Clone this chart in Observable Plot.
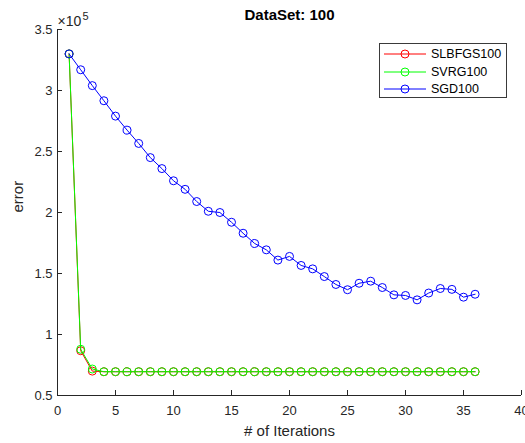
<!DOCTYPE html>
<html><head><meta charset="utf-8">
<script src="https://cdn.jsdelivr.net/npm/d3@7"></script>
<script src="https://cdn.jsdelivr.net/npm/@observablehq/plot@0.6"></script>
<style>
html,body{margin:0;padding:0;background:#fff;}
#wrap{position:relative;width:525px;height:443px;font-family:"Liberation Sans",Arial,sans-serif;}
#legend{position:absolute;left:379px;top:43px;width:128px;height:55px;border:1px solid #3a3a3a;background:#fff;box-sizing:border-box;font-size:12.5px;color:#000;}
#legend .row{position:absolute;left:0;height:16px;display:flex;align-items:center;}
#legend svg{display:block;}
#legend span{margin-left:4px;line-height:16px;}
</style></head><body><div id="wrap"></div>
<script>
const titleText = "DataSet: 100";
const xLabel = "# of Iterations";
const yLabel = "error";
const exponent = "5";
const seriesNames = ["SLBFGS100", "SVRG100", "SGD100"];
const seriesColors = ["#ff0000", "#00ff00", "#0000ff"];
const xTicks = [0, 5, 10, 15, 20, 25, 30, 35, 40];
const yTicks = [0.5, 1, 1.5, 2, 2.5, 3, 3.5];
const iterations = [1,2,3,4,5,6,7,8,9,10,11,12,13,14,15,16,17,18,19,20,21,22,23,24,25,26,27,28,29,30,31,32,33,34,35,36];
// values in units of 10^5
const slbfgs = [3.30,0.867,0.700,0.695,0.695,0.695,0.695,0.695,0.695,0.695,0.695,0.695,0.695,0.695,0.695,0.695,0.695,0.695,0.695,0.695,0.695,0.695,0.695,0.695,0.695,0.695,0.695,0.695,0.695,0.695,0.695,0.695,0.695,0.695,0.695,0.695];
const svrg = [3.30,0.879,0.717,0.695,0.695,0.695,0.695,0.695,0.695,0.695,0.695,0.695,0.695,0.695,0.695,0.695,0.695,0.695,0.695,0.695,0.695,0.695,0.695,0.695,0.695,0.695,0.695,0.695,0.695,0.695,0.695,0.695,0.695,0.695,0.695,0.695];
const sgd = [3.30,3.17,3.04,2.916,2.79,2.675,2.566,2.45,2.36,2.26,2.19,2.09,2.01,2.00,1.92,1.83,1.746,1.694,1.61,1.64,1.566,1.538,1.475,1.41,1.367,1.42,1.437,1.385,1.325,1.32,1.284,1.34,1.377,1.37,1.306,1.33];

const seriesValues = [slbfgs, svrg, sgd];
const axisColor = "#262626";
const font = '"Liberation Sans", Arial, sans-serif';

const seriesMarks = seriesValues.flatMap((vals, k) => {
  const data = iterations.map((it, i) => ({x: it, y: vals[i]}));
  return [
    Plot.line(data, {x: "x", y: "y", stroke: seriesColors[k], strokeWidth: 1}),
    Plot.dot(data, {x: "x", y: "y", r: 4, stroke: seriesColors[k], fill: "none", strokeWidth: 1})
  ];
});

const chart = Plot.plot({
  width: 525, height: 443,
  marginLeft: 57, marginRight: 4, marginTop: 29, marginBottom: 48,
  style: {fontFamily: font, fontSize: "13px", color: axisColor, background: "#fff", overflow: "visible"},
  x: {domain: [0, 40]},
  y: {domain: [0.5, 3.5]},
  marks: [
    ...seriesMarks,
    Plot.ruleY([0.5], {stroke: axisColor}),
    Plot.ruleX([0], {stroke: axisColor}),
    Plot.axisX({ticks: xTicks, tickSize: 5, dy: -5, tickFormat: () => "", stroke: axisColor, label: null}),
    Plot.axisX({ticks: xTicks, tickSize: 0, tickPadding: 10, tickFormat: d => String(d), fill: axisColor, label: null}),
    Plot.axisY({ticks: yTicks, tickSize: 5, dx: 5, tickFormat: () => "", stroke: axisColor, label: null}),
    Plot.axisY({ticks: yTicks, tickSize: 0, tickPadding: 5, tickFormat: d => String(d), fill: axisColor, label: null}),
    Plot.text([titleText], {frameAnchor: "top", lineAnchor: "middle", dy: -14, fontWeight: "bold", fontSize: 15, fill: "#000"}),
    Plot.text([xLabel], {frameAnchor: "bottom", lineAnchor: "middle", dy: 35.5, fontSize: 15, fill: axisColor}),
    Plot.text([yLabel], {frameAnchor: "left", lineAnchor: "middle", dx: -39, rotate: -90, fontSize: 15, fill: axisColor}),
    Plot.text(["\u00d710"], {frameAnchor: "top-left", lineAnchor: "middle", textAnchor: "start", dx: 0, dy: -7.5, fontSize: 14, fill: axisColor}),
    Plot.text([exponent], {frameAnchor: "top-left", lineAnchor: "middle", textAnchor: "start", dx: 25, dy: -13.5, fontSize: 11, fill: axisColor})
  ]
});

const wrap = document.getElementById("wrap");
wrap.appendChild(chart);

const legend = document.createElement("div");
legend.id = "legend";
const rowCenters = [11, 28.5, 46];
seriesNames.forEach((name, k) => {
  const row = document.createElement("div");
  row.className = "row";
  row.style.top = (rowCenters[k] - 8 - 1) + "px";
  const ns = "http://www.w3.org/2000/svg";
  const svg = document.createElementNS(ns, "svg");
  svg.setAttribute("width", 47); svg.setAttribute("height", 16);
  const ln = document.createElementNS(ns, "line");
  ln.setAttribute("x1", 4); ln.setAttribute("x2", 46); ln.setAttribute("y1", 8); ln.setAttribute("y2", 8);
  ln.setAttribute("stroke", seriesColors[k]); ln.setAttribute("stroke-width", 1);
  const c = document.createElementNS(ns, "circle");
  c.setAttribute("cx", 25); c.setAttribute("cy", 8); c.setAttribute("r", 4);
  c.setAttribute("fill", "none"); c.setAttribute("stroke", seriesColors[k]);
  svg.appendChild(ln); svg.appendChild(c);
  const span = document.createElement("span");
  span.textContent = name;
  row.appendChild(svg); row.appendChild(span);
  legend.appendChild(row);
});
wrap.appendChild(legend);
</script>
</body></html>
